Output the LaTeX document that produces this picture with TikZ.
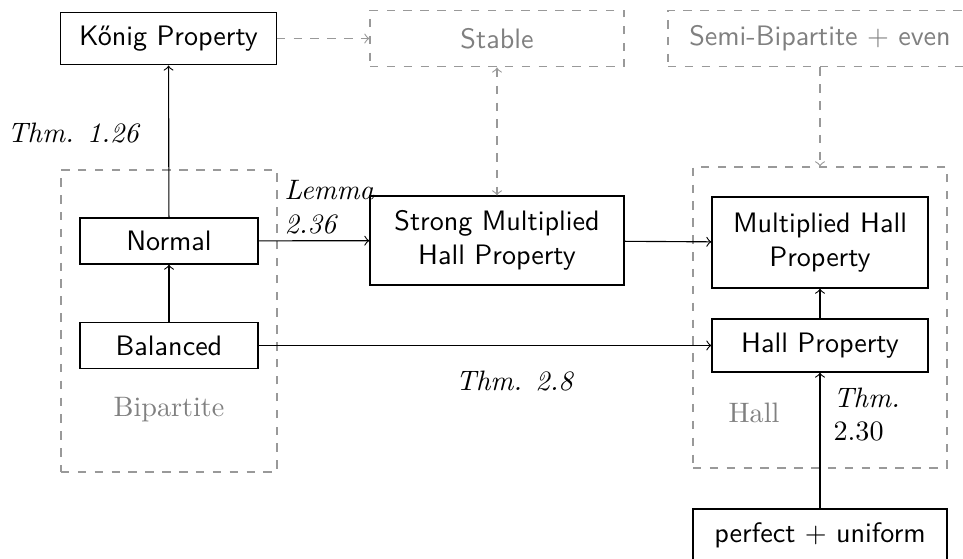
\documentclass[tikz,border=0pt]{standalone}
\usepackage{amsmath}
\usepackage{amssymb}
\usetikzlibrary{shapes,arrows,positioning}

\begin{document}
\begin{tikzpicture}[
    prop/.style={rectangle, draw, font=\sffamily, text centered, inner sep=2pt},
    ghost/.style={rectangle, draw=gray!80, dashed, text=gray, font=\sffamily, text centered},
    family/.style={rectangle, draw=gray!80, dashed},
    famname/.style={text=gray},
    arrow/.style={->},
    ghostarrow/.style={->, dashed, gray!80}
]
    \useasboundingbox (0,0) rectangle (12.0375,6.9875);

    % families
    \node[family, minimum width=2.7cm, minimum height=3.775cm] (bipbox) at (2.1125,2.975) {};
    \node[family, minimum width=3.175cm, minimum height=3.7625cm] (hallbox) at (10.25,3.019) {};
    \node[famname] (bipname) at (2.1125,1.8625) {Bipartite};
    \node[famname] (hallname) at (9.425,1.825) {Hall};

    \node[prop, minimum width=2.69cm, minimum height=0.66cm] (konig) at (2.106,6.506) {K\H{o}nig Property};
    \node[ghost, minimum width=3.175cm, minimum height=0.71cm] (stable) at (6.2125,6.506) {Stable};
    \node[ghost, minimum width=3.8cm, minimum height=0.71cm] (semi) at (10.25,6.506) {Semi-Bipartite $+$ even};

    \node[prop, minimum width=2.225cm, minimum height=0.575cm] (normal) at (2.1125,3.975) {Normal};
    \node[prop, minimum width=2.225cm, minimum height=0.575cm] (balanced) at (2.1125,2.669) {Balanced};

    \node[prop, minimum width=3.175cm, minimum height=1.1125cm, align=center] (strong) at (6.2125,3.981) {Strong Multiplied\\Hall Property};
    \node[prop, minimum width=2.7cm, minimum height=1.1375cm, align=center] (mult) at (10.25,3.956) {Multiplied Hall\\Property};
    \node[prop, minimum width=2.7cm, minimum height=0.6625cm] (hall) at (10.25,2.669) {Hall Property};
    \node[prop, minimum width=3.175cm, minimum height=0.6625cm] (perfect) at (10.25,0.294) {perfect $+$ uniform};

    % labels
    \node (thmA) at (0.925,5.325) {\textit{Thm. 1.26}};
    \node[anchor=west, align=left, inner sep=0pt] (lemma) at (3.55,4.394) {\textit{Lemma}\\\textit{2.36}};
    \node (thmB) at (6.4375,2.225) {\textit{Thm. 2.8}};
    \node[anchor=west, align=left, inner sep=0pt] (thmC) at (10.4125,1.806) {\textit{Thm.}\\2.30};

    \draw[arrow] (normal) -- (konig);
    \draw[arrow] (balanced) -- (normal);
    \draw[arrow] (normal) -- (strong);
    \draw[arrow] (strong) -- (mult);
    \draw[arrow] (balanced) -- (hall);
    \draw[arrow] (hall) -- (mult);
    \draw[arrow] (perfect) -- (hall);

    \draw[ghostarrow] (konig) -- (stable);
    \draw[ghostarrow, <->] (stable) -- (strong);
    \draw[ghostarrow] (semi) -- (hallbox);
\end{tikzpicture}
\end{document}
